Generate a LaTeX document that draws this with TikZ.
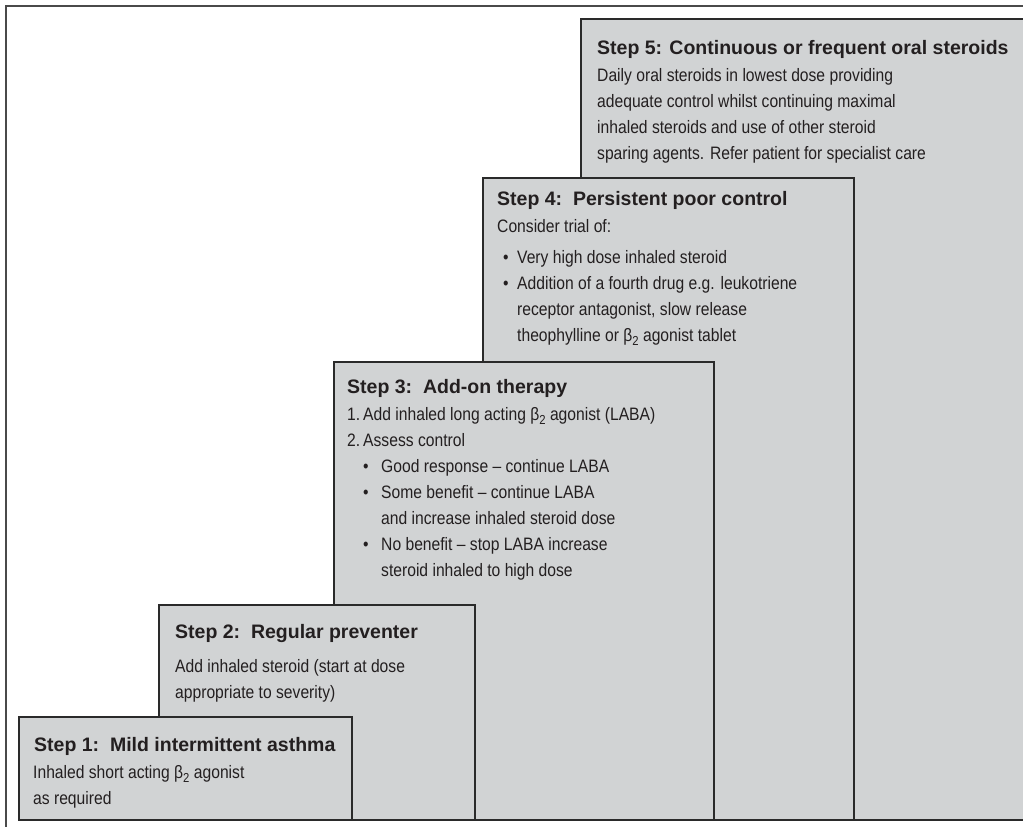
\documentclass[tikz,border=0pt]{standalone}
\usepackage{fontspec}
\setmainfont{Liberation Sans}
\newfontfamily\bodyfont[FakeStretch=0.87]{Liberation Sans}
\definecolor{boxgray}{HTML}{D1D3D4}
\definecolor{edgegray}{HTML}{2A2A2A}
\definecolor{framegray}{HTML}{4A4A4A}
\definecolor{inkgray}{HTML}{231F20}
\newcommand{\betatwo}{β\raisebox{-0.45ex}{\fontsize{13}{13}\selectfont 2}}
\newcommand{\bul}[1][14pt]{\makebox[#1][l]{\textbullet}}
\tikzset{
  stepbox/.style={draw=edgegray, fill=boxgray, line width=1.6pt, anchor=north west, inner sep=0pt},
  steptitle/.style={anchor=base west, inner sep=0pt, text=inkgray, font=\fontsize{19.5}{24}\selectfont\bfseries},
  stepbody/.style={anchor=base west, inner sep=0pt, text=inkgray, align=left, font=\fontsize{18}{26}\bodyfont},
}
\begin{document}
\begin{tikzpicture}[x=1pt, y=-1pt]
  \clip (0,0) rectangle (1023,827);
  \fill[white] (0,0) rectangle (1023,827);
  % outer frame, only top and left edge show
  \draw[framegray, line width=1.4pt] (6,840) -- (6,6) -- (1040,6);

  % the steps, back to front
  \node[stepbox, minimum width=460pt, minimum height=801pt] (s5) at (580,18) {};
  \node[stepbox, minimum width=371pt, minimum height=642pt] (s4) at (482,177) {};
  \node[stepbox, minimum width=380pt, minimum height=458pt] (s3) at (333,361) {};
  \node[stepbox, minimum width=316pt, minimum height=215pt] (s2) at (158,604) {};
  \node[stepbox, minimum width=333pt, minimum height=103pt] (s1) at (18,716) {};

  % step 5 (body is placed by its last baseline)
  \node[steptitle] (t5) at ([shift={(17,36)}]s5.north west) {Step 5: Continuous or frequent oral steroids};
  \node[stepbody] (b5) at ([shift={(0,105)}]t5.base west) {Daily oral steroids in lowest dose providing\\
    adequate control whilst continuing maximal\\
    inhaled steroids and use of other steroid\\
    sparing agents. Refer patient for specialist care};

  % step 4
  \node[steptitle] (t4) at ([shift={(15,28)}]s4.north west) {Step 4:\ \ Persistent poor control};
  \node[stepbody] (b4) at ([shift={(0,136)}]t4.base west) {Consider trial of:\\[5pt]
    \hspace*{6pt}\bul Very high dose inhaled steroid\\
    \hspace*{6pt}\bul Addition of a fourth drug e.g. leukotriene\\
    \hspace*{20pt}receptor antagonist, slow release\\
    \hspace*{20pt}theophylline or \betatwo{} agonist tablet};

  % step 3
  \node[steptitle] (t3) at ([shift={(14,32)}]s3.north west) {Step 3:\ \ Add-on therapy};
  \node[stepbody] (b3) at ([shift={(0,183)}]t3.base west) {\makebox[16pt][l]{1.}Add inhaled long acting \betatwo{} agonist (LABA)\\
    \makebox[16pt][l]{2.}Assess control\\
    \hspace*{16pt}\bul[18pt]Good response – continue LABA\\
    \hspace*{16pt}\bul[18pt]Some benefit – continue LABA\\
    \hspace*{34pt}and increase inhaled steroid dose\\
    \hspace*{16pt}\bul[18pt]No benefit – stop LABA increase\\
    \hspace*{34pt}steroid inhaled to high dose};

  % step 2
  \node[steptitle] (t2) at ([shift={(17,34)}]s2.north west) {Step 2:\ \ Regular preventer};
  \node[stepbody] (b2) at ([shift={(0,60)}]t2.base west) {Add inhaled steroid (start at dose\\
    appropriate to severity)};

  % step 1
  \node[steptitle] (t1) at ([shift={(16,35)}]s1.north west) {Step 1:\ \ Mild intermittent asthma};
  \node[stepbody] (b1) at ([shift={(-1,53)}]t1.base west) {Inhaled short acting \betatwo{} agonist\\
    as required};
\end{tikzpicture}
\end{document}
